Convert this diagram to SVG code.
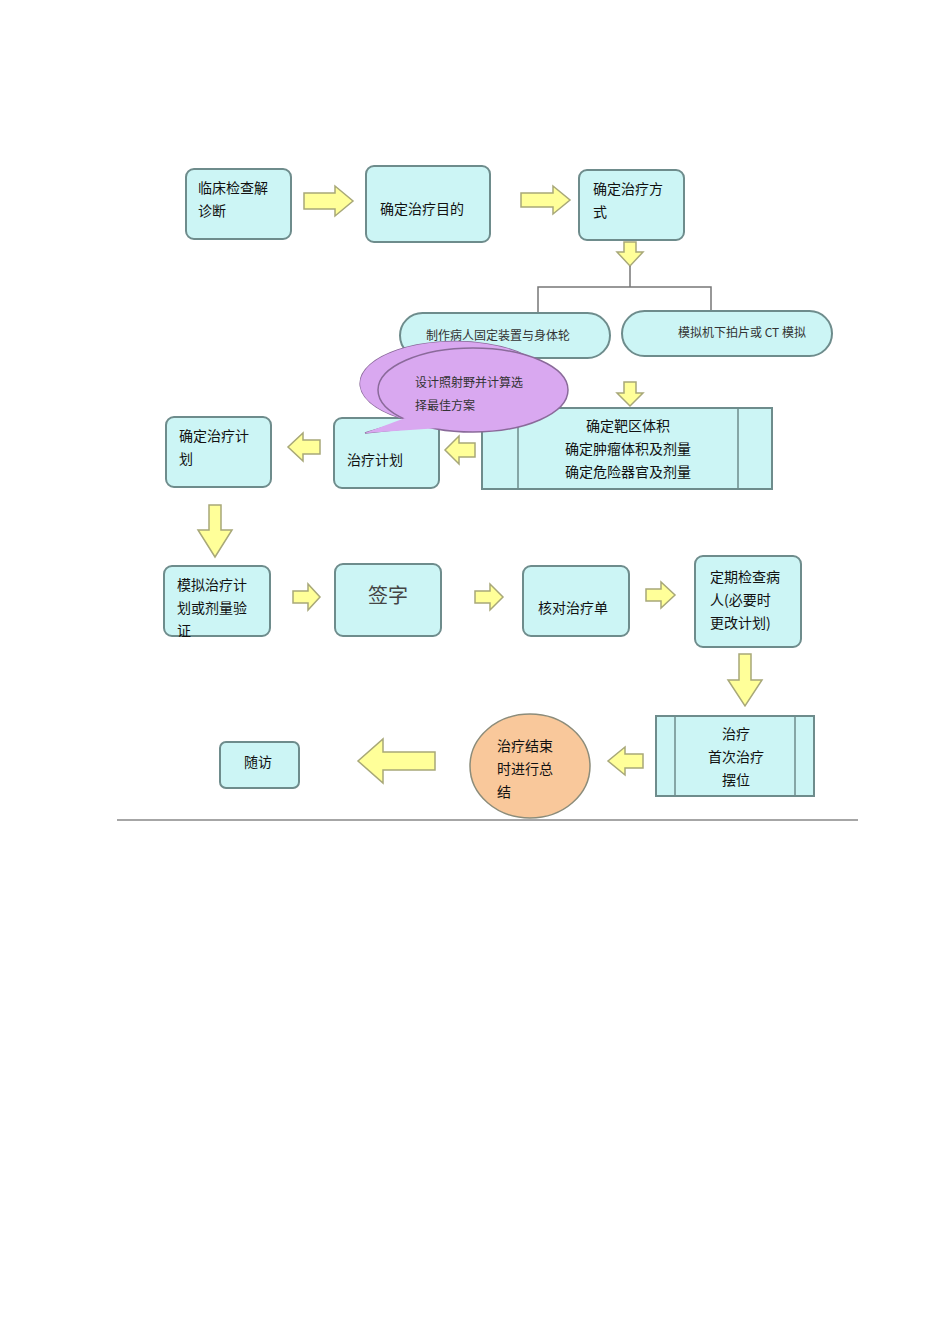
<svg xmlns="http://www.w3.org/2000/svg" width="950" height="1344" viewBox="0 0 950 1344">
<style>
.box{fill:#CCF5F5;stroke:#6E8C8C;stroke-width:2}
.arr{fill:#FFFF99;stroke:#A8A878;stroke-width:1.5}
.t{font-family:"Noto Sans CJK SC","Liberation Sans",sans-serif;font-size:14px;fill:#111}
.s{font-family:"Noto Sans CJK SC","Liberation Sans",sans-serif;font-size:12px;fill:#333}
.ln{fill:none;stroke:#777;stroke-width:1.5}
</style>
<rect width="950" height="1344" fill="#fff"/>
<g id="connectors">
<path class="arr" d="M304,193H335V186L353,201L335,216V209H304Z"/>
<path class="arr" d="M521,193H553V186L570,200L553,214V207H521Z"/>
<path class="arr" d="M624,242H636V252H643L630,266L617,252H624Z"/>
<path class="ln" d="M630,266V287M538,318V287H711V313"/>
<path class="arr" d="M624,382H636V393H643L630,406L617,393H624Z"/>
<path class="arr" d="M475,443H459V436L445,450L459,464V457H475Z"/>
<path class="arr" d="M320,440H303V433L288,447L303,461V454H320Z"/>
<path class="arr" d="M209,505H221V530H232L215,557L198,530H209Z"/>
<path class="arr" d="M293,591H308V584L320,597L308,610V603H293Z"/>
<path class="arr" d="M475,591H490V584L503,597L490,610V603H475Z"/>
<path class="arr" d="M646,589H661V582L675,595L661,608V601H646Z"/>
<path class="arr" d="M739,654H751V680H762L745,706L728,680H739Z"/>
<path class="arr" d="M643,754H625V747L608,761L625,775V768H643Z"/>
<path class="arr" d="M435,752H383V739L358,761L383,783V770H435Z"/>
</g>
<g id="n1"><rect class="box" x="186" y="169" width="105" height="70" rx="8"/><text class="t" x="198" y="193">临床检查解</text><text class="t" x="198" y="216">诊断</text></g>
<g id="n2"><rect class="box" x="366" y="166" width="124" height="76" rx="8"/><text class="t" x="380" y="214">确定治疗目的</text></g>
<g id="n3"><rect class="box" x="579" y="170" width="105" height="70" rx="8"/><text class="t" x="593" y="194">确定治疗方</text><text class="t" x="593" y="217">式</text></g>
<g id="n4"><rect class="box" x="400" y="313" width="210" height="45" rx="22.5"/><text class="s" x="498" y="340" text-anchor="middle">制作病人固定装置与身体轮</text></g>
<g id="n5"><rect class="box" x="622" y="311" width="210" height="45" rx="22.5"/><text class="s" x="742" y="337" text-anchor="middle">模拟机下拍片或 CT 模拟</text></g>
<g id="n6"><rect class="box" x="482" y="408" width="290" height="81" rx="0"/><path class="ln" d="M518,408V489M738,408V489" style="stroke:#6E8C8C"/><text class="t" x="628" y="431" text-anchor="middle">确定靶区体积</text><text class="t" x="628" y="454" text-anchor="middle">确定肿瘤体积及剂量</text><text class="t" x="628" y="477" text-anchor="middle">确定危险器官及剂量</text></g>
<g id="n7"><rect class="box" x="334" y="418" width="105" height="70" rx="8"/><text class="t" x="347" y="465">治疗计划</text></g>
<g id="n8"><path d="M365,433L408,420A95,42 0 1 1 440,425Z" fill="#D9A8F0" stroke="#8A6A9A" stroke-width="1.5"/><path d="M365,433L408,420A95,42 0 1 1 440,425Z" fill="#D9A8F0" stroke="none" transform="translate(0,0)"/><ellipse cx="473" cy="390" rx="95" ry="42" fill="#D9A8F0" stroke="#8A6A9A" stroke-width="1.5"/><path d="M405,418L365,433L440,428Z" fill="#D9A8F0"/><text class="s" x="415" y="387">设计照射野并计算选</text><text class="s" x="415" y="410">择最佳方案</text></g>
<g id="n9"><rect class="box" x="166" y="417" width="105" height="70" rx="8"/><text class="t" x="179" y="441">确定治疗计</text><text class="t" x="179" y="464">划</text></g>
<g id="n10"><rect class="box" x="164" y="566" width="106" height="70" rx="8"/><text class="t" x="177" y="590">模拟治疗计</text><text class="t" x="177" y="613">划或剂量验</text><text class="t" x="177" y="636">证</text></g>
<g id="n11"><rect class="box" x="335" y="564" width="106" height="72" rx="8"/><text class="t" x="388" y="603" text-anchor="middle" style="font-size:20px;fill:#444">签字</text></g>
<g id="n12"><rect class="box" x="523" y="566" width="106" height="70" rx="8"/><text class="t" x="538" y="613">核对治疗单</text></g>
<g id="n13"><rect class="box" x="695" y="556" width="106" height="91" rx="8"/><text class="t" x="710" y="582">定期检查病</text><text class="t" x="710" y="605">人(必要时</text><text class="t" x="710" y="628">更改计划)</text></g>
<g id="n14"><rect class="box" x="656" y="716" width="158" height="80" rx="0"/><path class="ln" d="M675,716V796M795,716V796" style="stroke:#6E8C8C"/><text class="t" x="736" y="739" text-anchor="middle">治疗</text><text class="t" x="736" y="762" text-anchor="middle">首次治疗</text><text class="t" x="736" y="785" text-anchor="middle">摆位</text></g>
<g id="n15"><ellipse cx="530" cy="766" rx="60" ry="52" fill="#F9C89B" stroke="#8C8C7A" stroke-width="1.5"/><text class="t" x="497" y="751">治疗结束</text><text class="t" x="497" y="774">时进行总</text><text class="t" x="497" y="797">结</text></g>
<g id="n16"><rect class="box" x="220" y="742" width="79" height="46" rx="6"/><text class="t" x="244" y="767">随访</text></g>
<path d="M117,820H858" stroke="#888" stroke-width="1.5"/>
</svg>
